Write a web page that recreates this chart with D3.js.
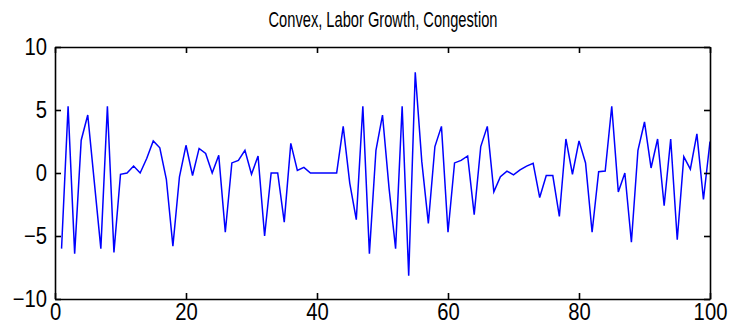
<!DOCTYPE html>
<html>
<head>
<meta charset="utf-8">
<script src="https://cdn.jsdelivr.net/npm/d3@7/dist/d3.min.js"></script>
<style>
  html, body { margin: 0; padding: 0; background: #fff; }
  svg { display: block; }
  text { font-family: "Liberation Sans", Arial, sans-serif; fill: #000; }
</style>
</head>
<body>
<svg id="chart" width="738" height="336"></svg>
<script>
const title = "Convex, Labor Growth, Congestion";
const xTicks = [0, 20, 40, 60, 80, 100];
const yTicks = [-10, -5, 0, 5, 10];
const xValues = d3.range(1, 101);
const yValues = [
  -6.0, 5.3, -6.4, 2.6, 4.6, -0.7, -6.0, 5.3, -6.3, -0.1,
  0.0, 0.55, 0.0, 1.15, 2.55, 2.0, -0.5, -5.8, -0.3, 2.2,
  -0.2, 1.95, 1.55, 0.0, 1.4, -4.7, 0.8, 1.0, 1.8, -0.1,
  1.35, -5.0, 0.0, 0.0, -3.9, 2.35, 0.2, 0.45, 0.0, 0.0,
  0.0, 0.0, 0.0, 3.7, -0.8, -3.7, 5.3, -6.4, 1.8, 4.6,
  -1.2, -6.0, 5.3, -8.15, 8.0, 0.9, -4.0, 2.1, 3.7, -4.7,
  0.8, 1.0, 1.35, -3.3, 2.1, 3.7, -1.5, -0.3, 0.15, -0.15,
  0.25, 0.55, 0.77, -1.95, -0.2, -0.2, -3.45, 2.7, -0.1, 2.55,
  0.8, -4.7, 0.1, 0.15, 5.3, -1.5, 0.0, -5.5, 1.8, 4.05,
  0.4, 2.7, -2.6, 2.7, -5.3, 1.3, 0.3, 3.1, -2.1, 2.5
];

const svg = d3.select("#chart");
const L = 55, R = 710, T = 47, B = 299;
const x = d3.scaleLinear().domain([0, 100]).range([L, R]);
const y = d3.scaleLinear().domain([-10, 10]).range([B, T]);

const data = xValues.map((d, i) => ({x: d, y: yValues[i]}));

// line
svg.append("path")
  .datum(data)
  .attr("fill", "none")
  .attr("stroke", "#0000ff")
  .attr("stroke-width", 1.5)
  .attr("stroke-linejoin", "miter")
  .attr("d", d3.line().x(d => x(d.x)).y(d => y(d.y)));

// axes (inward ticks, box)
const tickLen = 6;
const sx = 0.88;
const axB = d3.axisBottom(x).tickValues(xTicks).tickSizeInner(-tickLen).tickSizeOuter(0).tickPadding(5);
const axT = d3.axisTop(x).tickValues(xTicks).tickSizeInner(-tickLen).tickSizeOuter(0).tickFormat("");
const axL = d3.axisLeft(y).tickValues(yTicks).tickSizeInner(-tickLen).tickSizeOuter(0).tickPadding(9);
const axR = d3.axisRight(y).tickValues(yTicks).tickSizeInner(-tickLen).tickSizeOuter(0).tickFormat("");

function style(g) {
  g.selectAll("path.domain").attr("stroke", "#000").attr("stroke-width", 1.6);
  g.selectAll(".tick line").attr("stroke", "#000").attr("stroke-width", 1.6);
  g.selectAll("text").attr("font-size", 23).attr("fill", "#000")
    .attr("transform", `scale(${sx},1)`)
    .style("font-family", '"Liberation Sans", Arial, sans-serif');
}
svg.append("g").attr("transform", `translate(0,${B})`).call(axB).call(style);
svg.append("g").attr("transform", `translate(0,${T})`).call(axT).call(style);
svg.append("g").attr("transform", `translate(${L},0)`).call(axL).call(style);
svg.append("g").attr("transform", `translate(${R},0)`).call(axR).call(style);

svg.append("text")
  .attr("x", (L + R) / 2 + 0.5)
  .attr("y", 27)
  .attr("text-anchor", "middle")
  .attr("font-size", 22)
  .attr("textLength", 229)
  .attr("lengthAdjust", "spacingAndGlyphs")
  .text(title);
</script>
</body>
</html>
